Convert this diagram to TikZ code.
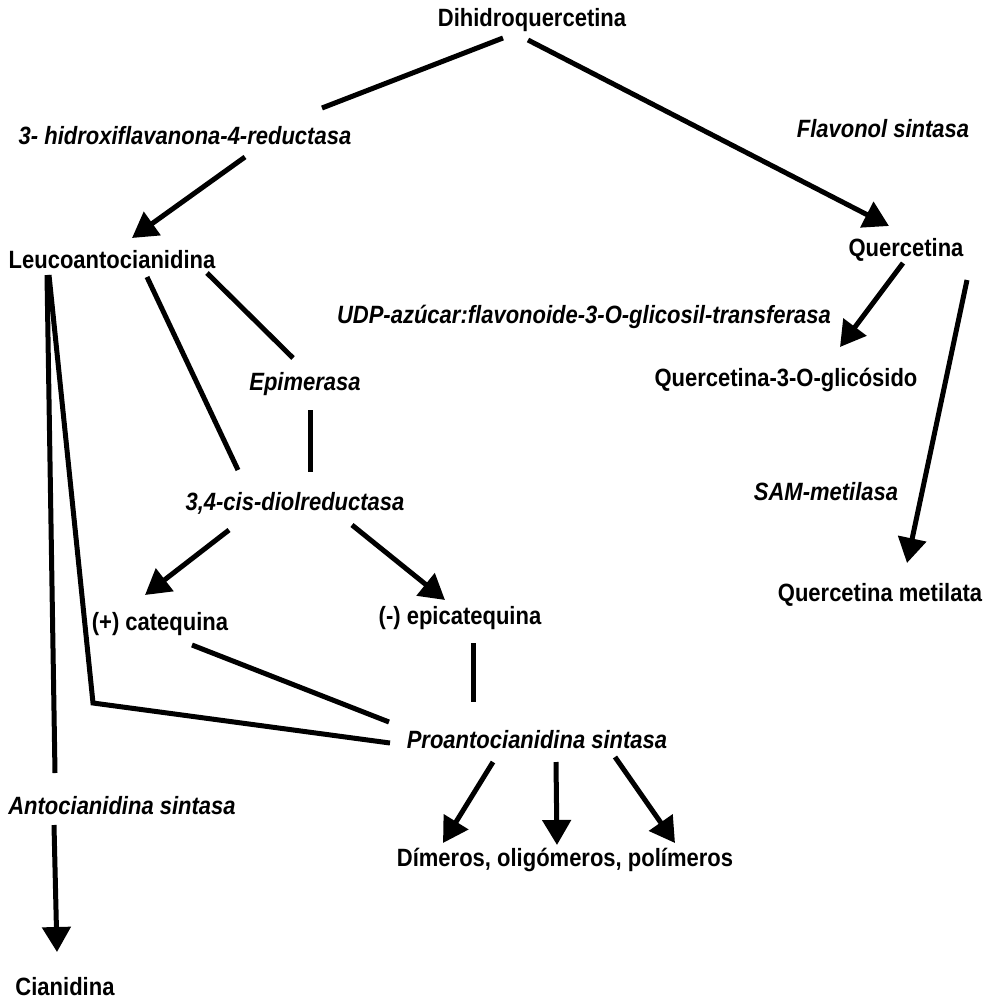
\documentclass[tikz,border=0pt]{standalone}
\usepackage{fontspec}
\setmainfont{Liberation Sans}[FakeStretch=0.88]
\usetikzlibrary{arrows.meta}

\begin{document}
\begin{tikzpicture}[x=1pt,y=-1pt,
  every node/.style={anchor=base,inner sep=0pt,font=\fontsize{25}{30}\selectfont\bfseries},
  enz/.style={font=\fontsize{25}{30}\selectfont\bfseries\itshape},
  link/.style={line width=5pt},
  arr/.style={link,-{Triangle[length=25pt,width=28pt]}}]
\useasboundingbox (0,0) rectangle (986,999);
\node (dihidro) at (532,26) {Dihidroquercetina};
\node [enz] (hfr) at (185,144) {3- hidroxiflavanona-4-reductasa};
\node [enz] (fls) at (883,137) {Flavonol sintasa};
\node (leuco) at (112,268) {Leucoantocianidina};
\node (querc) at (906,256) {Quercetina};
\node [enz] (udp) at (584,323) {UDP-azúcar:flavonoide-3-O-glicosil-transferasa};
\node (gluc) at (786,386) {Quercetina-3-O-glicósido};
\node [enz] (epim) at (305,390) {Epimerasa};
\node [enz] (diol) at (295,510) {3,4-cis-diolreductasa};
\node [enz] (sam) at (826,500) {SAM-metilasa};
\node (metil) at (880,601) {Quercetina metilata};
\node (cat) at (160,630) {(+) catequina};
\node (epicat) at (460,624) {(-) epicatequina};
\node [enz] (pas) at (537,748) {Proantocianidina sintasa};
\node [enz] (ans) at (122,814) {Antocianidina sintasa};
\node (dimer) at (565,866) {Dímeros, oligómeros, polímeros};
\node (ciani) at (65,995) {Cianidina};
\coordinate (bend) at (93,703);

\draw [link] ([shift={(-29,12)}]dihidro.base) -- ([shift={(137,-36)}]hfr.base);
\draw [arr] ([shift={(60,13)}]hfr.base) -- ([shift={(20,-30)}]leuco.base);
\draw [arr] ([shift={(-4,14)}]dihidro.base) -- ([shift={(-17,-30)}]querc.base);
\draw [arr] ([shift={(-3,7)}]querc.base) -- ([shift={(54,-39)}]gluc.base);
\draw [arr] ([shift={(61,24)}]querc.base) -- ([shift={(27,-38)}]metil.base);
\draw [link] ([shift={(95,5)}]leuco.base) -- ([shift={(-12,-32)}]epim.base);
\draw [link] ([shift={(35,9)}]leuco.base) -- ([shift={(-57,-40)}]diol.base);
\draw [link] ([shift={(5,20)}]epim.base) -- ([shift={(15,-38)}]diol.base);
\draw [link] ([shift={(-65,7)}]leuco.base) -- ([shift={(-67,-41)}]ans.base);
\draw [link] ([shift={(-63,7)}]leuco.base) -- (bend) -- ([shift={(-147,-5)}]pas.base);
\draw [link] ([shift={(32,15)}]cat.base) -- ([shift={(-148,-26)}]pas.base);
\draw [link] ([shift={(13,19)}]epicat.base) -- ([shift={(-64,-46)}]pas.base);
\draw [arr] ([shift={(-66,20)}]diol.base) -- ([shift={(-15,-35)}]cat.base);
\draw [arr] ([shift={(57,15)}]diol.base) -- ([shift={(-15,-24)}]epicat.base);
\draw [arr] ([shift={(-44,14)}]pas.base) -- ([shift={(-122,-23)}]dimer.base);
\draw [arr] ([shift={(19,14)}]pas.base) -- ([shift={(-8,-21)}]dimer.base);
\draw [arr] ([shift={(78,9)}]pas.base) -- ([shift={(110,-23)}]dimer.base);
\draw [arr] ([shift={(-68,11)}]ans.base) -- ([shift={(-8,-43)}]ciani.base);
\end{tikzpicture}
\end{document}
